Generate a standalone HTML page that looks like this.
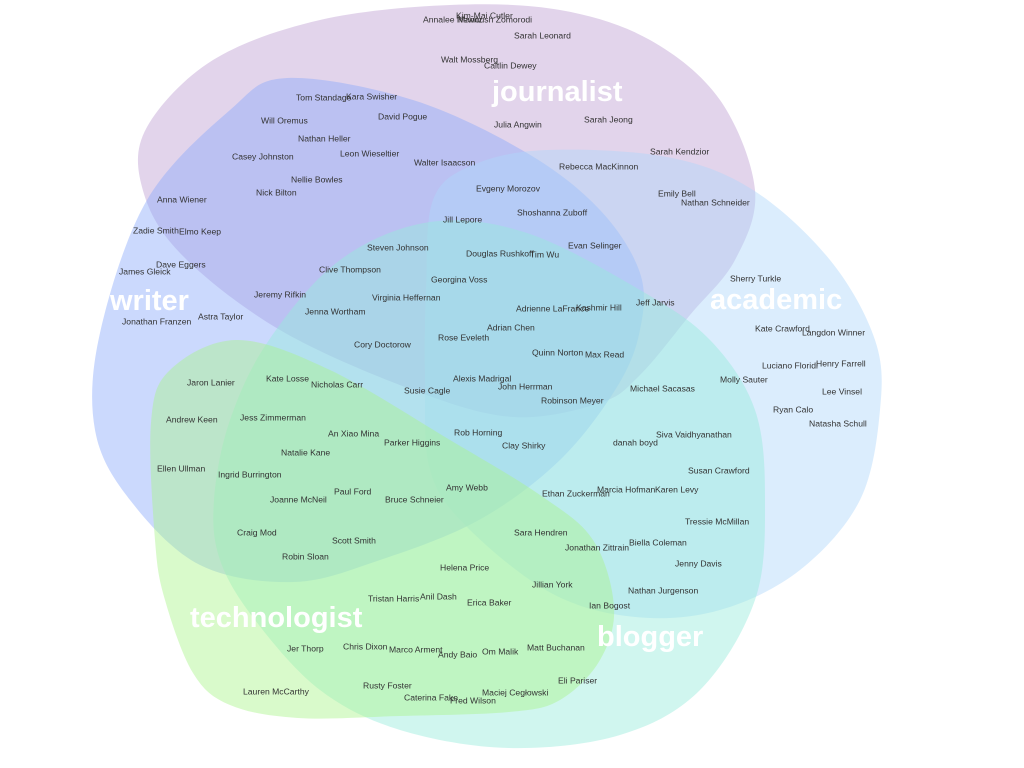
<!DOCTYPE html>
<html><head><meta charset="utf-8"><style>
html,body{margin:0;padding:0;background:#fff;width:1024px;height:768px;overflow:hidden}
svg{display:block}
.n{font-family:"Liberation Sans",sans-serif;font-size:8.6px;fill:#333}
.c{font-family:"Liberation Sans",sans-serif;font-size:29px;font-weight:bold;fill:#fff}
</style></head><body>
<svg width="1024" height="768" viewBox="0 0 1024 768" xmlns="http://www.w3.org/2000/svg">
<g id="shapes" fill-opacity="0.45">
<polygon id="journalist" fill="rgb(190,160,210)" points="450,5 560,10 650,40 720,100 755,190 735,260 690,315 640,375 600,403 513,417 413,390 280,330 180,253 142,187 147,127 213,60 320,20"/>
<polygon id="writer" fill="rgb(140,170,250)" points="287,78 413,100 527,153 600,210 640,273 640,330 617,387 560,460 479,520 380,560 294,582 200,565 130,500 95,430 100,333 147,200 230,110"/>
<polygon id="academic" fill="rgb(175,215,250)" points="547,150 667,157 753,190 830,260 875,340 880,410 860,500 800,570 720,610 635,617 551,593 467,527 430,470 425,380 426,290 433,200 473,165"/>
<polygon id="blogger" fill="rgb(150,235,220)" points="430,222 527,233 640,290 710,340 755,410 765,500 755,600 700,690 620,735 509,748 400,730 320,690 255,620 220,560 214,500 230,420 269,340 340,260"/>
<polygon id="tech" fill="rgb(170,245,140)" points="237,340 330,370 450,440 540,495 593,540 614,607 600,660 560,700 509,712 400,716 298,718 230,705 193,673 165,600 155,540 151,423 170,370"/>
</g>
<g class="c">
<text x="492" y="101">journalist</text>
<text x="110" y="310">writer</text>
<text x="710" y="309">academic</text>
<text x="190" y="627">technologist</text>
<text x="597" y="646">blogger</text>
</g>
<g class="n" dominant-baseline="middle">
<text x="456" y="16">Kim-Mai Cutler</text>
<text x="423" y="20">Annalee Newitz</text>
<text x="458" y="20">Manoush Zomorodi</text>
<text x="514" y="36">Sarah Leonard</text>
<text x="441" y="60">Walt Mossberg</text>
<text x="484" y="66">Caitlin Dewey</text>
<text x="296" y="98">Tom Standage</text>
<text x="346" y="97">Kara Swisher</text>
<text x="378" y="117">David Pogue</text>
<text x="494" y="125">Julia Angwin</text>
<text x="584" y="120">Sarah  Jeong</text>
<text x="261" y="121">Will Oremus</text>
<text x="298" y="139">Nathan Heller</text>
<text x="232" y="157">Casey Johnston</text>
<text x="340" y="154">Leon Wieseltier</text>
<text x="414" y="163">Walter Isaacson</text>
<text x="559" y="167">Rebecca MacKinnon</text>
<text x="650" y="152">Sarah Kendzior</text>
<text x="291" y="180">Nellie Bowles</text>
<text x="256" y="193">Nick Bilton</text>
<text x="476" y="189">Evgeny Morozov</text>
<text x="658" y="194">Emily Bell</text>
<text x="681" y="203">Nathan  Schneider</text>
<text x="157" y="200">Anna Wiener</text>
<text x="517" y="213">Shoshanna Zuboff</text>
<text x="443" y="220">Jill Lepore</text>
<text x="133" y="231">Zadie Smith</text>
<text x="179" y="232">Elmo Keep</text>
<text x="367" y="248">Steven Johnson</text>
<text x="568" y="246">Evan Selinger</text>
<text x="466" y="254">Douglas Rushkoff</text>
<text x="530" y="255">Tim Wu</text>
<text x="156" y="265">Dave Eggers</text>
<text x="119" y="272">James Gleick</text>
<text x="319" y="270">Clive Thompson</text>
<text x="431" y="280">Georgina Voss</text>
<text x="730" y="279">Sherry Turkle</text>
<text x="254" y="295">Jeremy Rifkin</text>
<text x="372" y="298">Virginia Heffernan</text>
<text x="636" y="303">Jeff Jarvis</text>
<text x="516" y="309">Adrienne LaFrance</text>
<text x="576" y="308">Kashmir Hill</text>
<text x="122" y="322">Jonathan Franzen</text>
<text x="198" y="317">Astra Taylor</text>
<text x="305" y="312">Jenna Wortham</text>
<text x="755" y="329">Kate Crawford</text>
<text x="802" y="333">Langdon Winner</text>
<text x="487" y="328">Adrian Chen</text>
<text x="438" y="338">Rose Eveleth</text>
<text x="354" y="345">Cory Doctorow</text>
<text x="532" y="353">Quinn Norton</text>
<text x="585" y="355">Max Read</text>
<text x="762" y="366">Luciano Floridi</text>
<text x="816" y="364">Henry Farrell</text>
<text x="187" y="383">Jaron Lanier</text>
<text x="266" y="379">Kate Losse</text>
<text x="311" y="385">Nicholas Carr</text>
<text x="453" y="379">Alexis Madrigal</text>
<text x="498" y="387">John Herrman</text>
<text x="404" y="391">Susie Cagle</text>
<text x="720" y="380">Molly Sauter</text>
<text x="630" y="389">Michael Sacasas</text>
<text x="822" y="392">Lee Vinsel</text>
<text x="541" y="401">Robinson Meyer</text>
<text x="773" y="410">Ryan Calo</text>
<text x="166" y="420">Andrew Keen</text>
<text x="240" y="418">Jess Zimmerman</text>
<text x="809" y="424">Natasha Schull</text>
<text x="328" y="434">An Xiao Mina</text>
<text x="454" y="433">Rob  Horning</text>
<text x="656" y="435">Siva Vaidhyanathan</text>
<text x="384" y="443">Parker Higgins</text>
<text x="613" y="443">danah boyd</text>
<text x="502" y="446">Clay Shirky</text>
<text x="281" y="453">Natalie Kane</text>
<text x="157" y="469">Ellen Ullman</text>
<text x="688" y="471">Susan Crawford</text>
<text x="218" y="475">Ingrid Burrington</text>
<text x="446" y="488">Amy  Webb</text>
<text x="334" y="492">Paul Ford</text>
<text x="542" y="494">Ethan Zuckerman</text>
<text x="597" y="490">Marcia Hofman</text>
<text x="655" y="490">Karen Levy</text>
<text x="270" y="500">Joanne McNeil</text>
<text x="385" y="500">Bruce Schneier</text>
<text x="685" y="522">Tressie McMillan</text>
<text x="237" y="533">Craig Mod</text>
<text x="514" y="533">Sara Hendren</text>
<text x="332" y="541">Scott Smith</text>
<text x="565" y="548">Jonathan Zittrain</text>
<text x="629" y="543">Biella Coleman</text>
<text x="282" y="557">Robin Sloan</text>
<text x="675" y="564">Jenny Davis</text>
<text x="440" y="568">Helena Price</text>
<text x="532" y="585">Jillian York</text>
<text x="628" y="591">Nathan  Jurgenson</text>
<text x="368" y="599">Tristan Harris</text>
<text x="420" y="597">Anil Dash</text>
<text x="467" y="603">Erica Baker</text>
<text x="589" y="606">Ian Bogost</text>
<text x="287" y="649">Jer Thorp</text>
<text x="343" y="647">Chris Dixon</text>
<text x="389" y="650">Marco Arment</text>
<text x="438" y="655">Andy Baio</text>
<text x="482" y="652">Om Malik</text>
<text x="527" y="648">Matt Buchanan</text>
<text x="558" y="681">Eli Pariser</text>
<text x="243" y="692">Lauren McCarthy</text>
<text x="363" y="686">Rusty Foster</text>
<text x="404" y="698">Caterina Fake</text>
<text x="450" y="701">Fred Wilson</text>
<text x="482" y="693">Maciej  Cegłowski</text>
</g>
</svg>
<script>
(function(){
var NS="http://www.w3.org/2000/svg";
var polys=document.querySelectorAll("#shapes polygon");
for(var i=0;i<polys.length;i++){
 var p=polys[i];
 var pts=p.getAttribute("points").trim().split(/\s+/).map(function(s){var a=s.split(",");return [+a[0],+a[1]];});
 var n=pts.length,d="M"+pts[0][0]+","+pts[0][1];
 for(var k=0;k<n;k++){
  var p0=pts[(k-1+n)%n],p1=pts[k],p2=pts[(k+1)%n],p3=pts[(k+2)%n];
  var c1x=p1[0]+(p2[0]-p0[0])/6,c1y=p1[1]+(p2[1]-p0[1])/6;
  var c2x=p2[0]-(p3[0]-p1[0])/6,c2y=p2[1]-(p3[1]-p1[1])/6;
  d+=" C"+c1x+","+c1y+" "+c2x+","+c2y+" "+p2[0]+","+p2[1];
 }
 d+="Z";
 var path=document.createElementNS(NS,"path");
 path.setAttribute("d",d);
 path.setAttribute("fill",p.getAttribute("fill"));
 p.parentNode.replaceChild(path,p);
}
})();
</script>
</body></html>
